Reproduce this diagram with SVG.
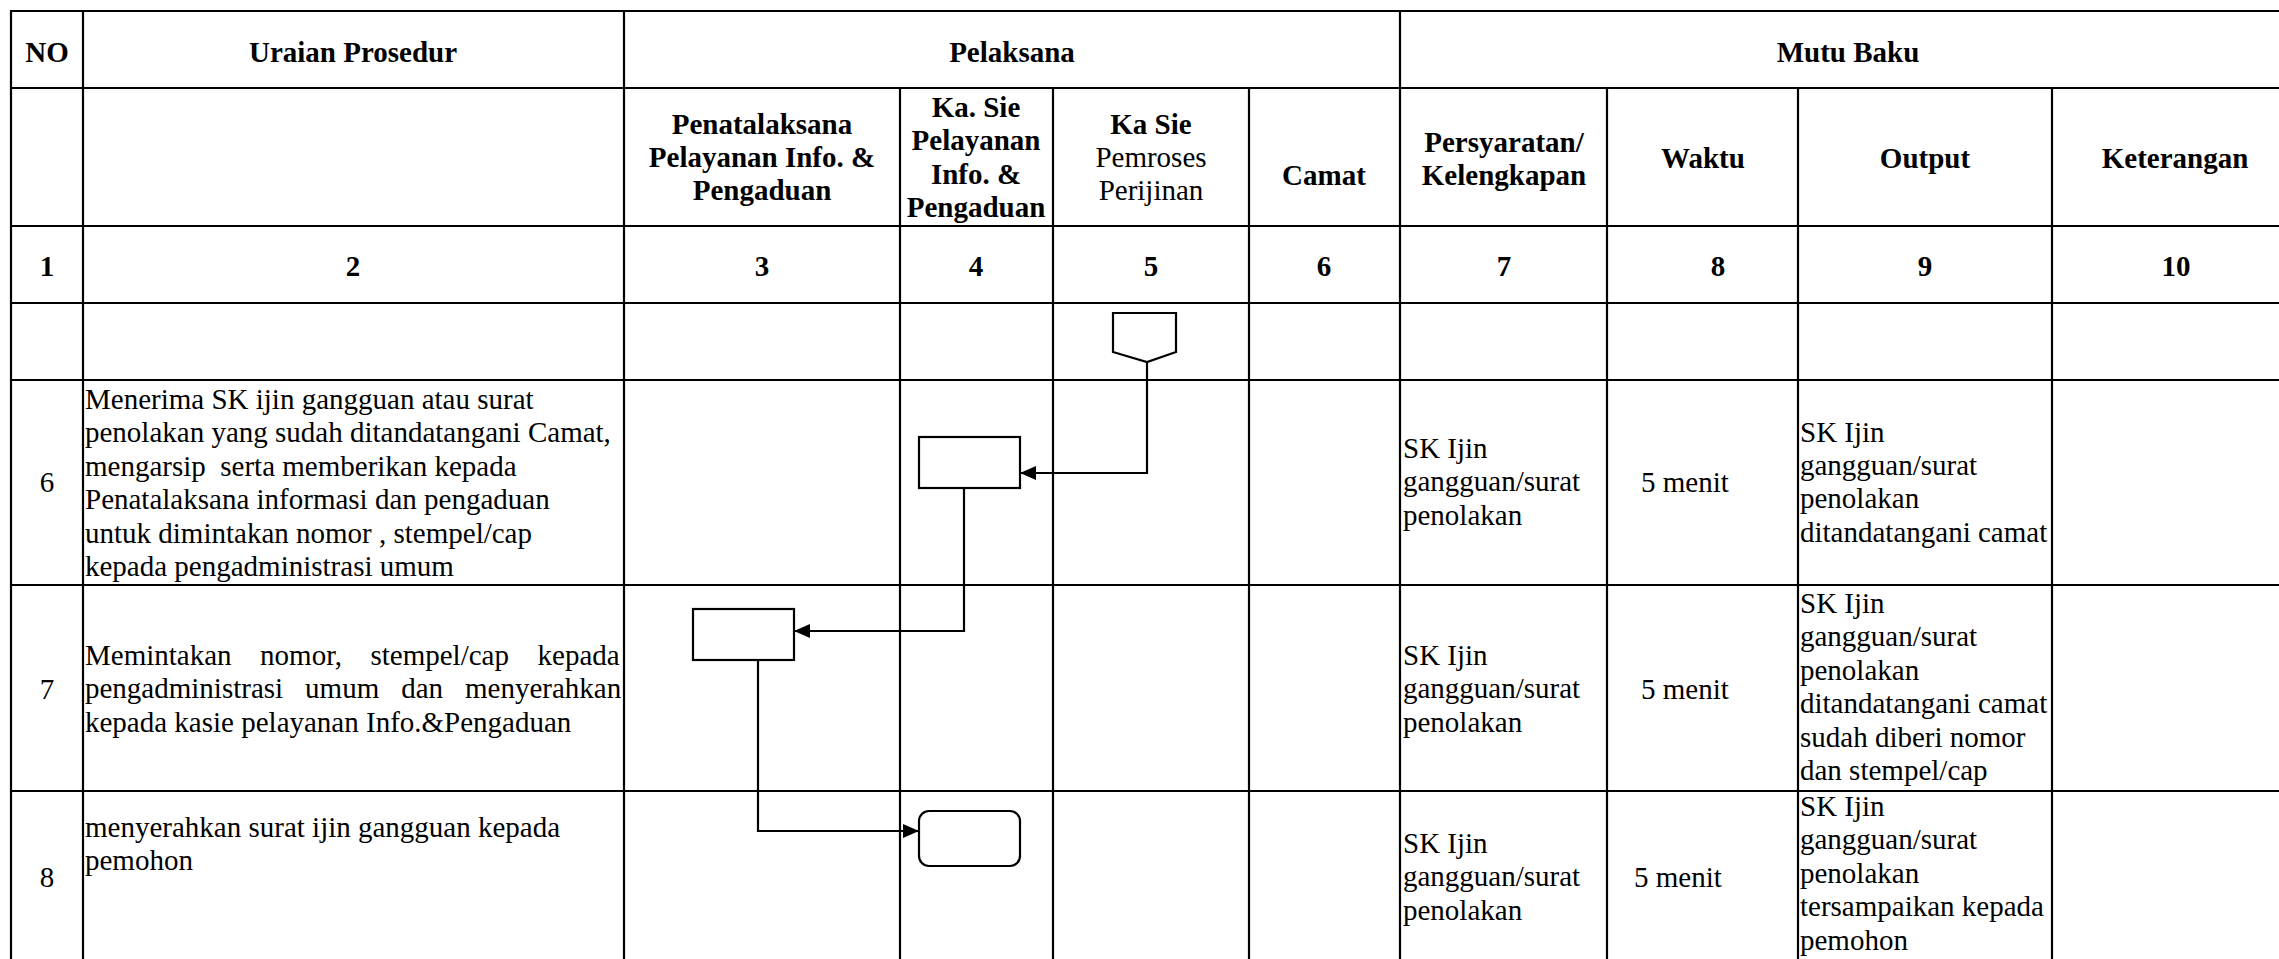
<svg xmlns="http://www.w3.org/2000/svg" width="2279" height="959" viewBox="0 0 2279 959">
<style>
.grid line{stroke:#000;stroke-width:2.2}
text{font-family:"Liberation Serif","Times New Roman",serif;font-size:29px;fill:#000}
.b{font-weight:bold}
.c{text-anchor:middle}
.pre{white-space:pre}
.shape{fill:#fff;stroke:#000;stroke-width:2.2}
.conn{fill:none;stroke:#000;stroke-width:2.2}
</style>
<defs>
<marker id="arr" markerUnits="userSpaceOnUse" markerWidth="18" markerHeight="16" refX="16" refY="7" orient="auto">
<path d="M0,0 L16,7 L0,14 Z" fill="#000"/>
</marker>
</defs>
<rect width="2279" height="959" fill="#fff"/>
<g id="grid" class="grid">
<line x1="11" y1="11" x2="2279" y2="11"/>
<line x1="11" y1="88" x2="2279" y2="88"/>
<line x1="11" y1="226" x2="2279" y2="226"/>
<line x1="11" y1="303" x2="2279" y2="303"/>
<line x1="11" y1="380" x2="2279" y2="380"/>
<line x1="11" y1="585" x2="2279" y2="585"/>
<line x1="11" y1="791" x2="2279" y2="791"/>
<line x1="11" y1="10" x2="11" y2="959"/>
<line x1="83" y1="10" x2="83" y2="959"/>
<line x1="624" y1="10" x2="624" y2="959"/>
<line x1="900" y1="88" x2="900" y2="959"/>
<line x1="1053" y1="88" x2="1053" y2="959"/>
<line x1="1249" y1="88" x2="1249" y2="959"/>
<line x1="1400" y1="10" x2="1400" y2="959"/>
<line x1="1607" y1="88" x2="1607" y2="959"/>
<line x1="1798" y1="88" x2="1798" y2="959"/>
<line x1="2052" y1="88" x2="2052" y2="959"/>
</g>
<g id="header">
<text class="b c" x="47" y="62">NO</text>
<text class="b c" x="353" y="62">Uraian Prosedur</text>
<text class="b c" x="1012" y="62">Pelaksana</text>
<text class="b c" x="1848" y="62">Mutu Baku</text>
<text class="b c" x="762"><tspan x="762" y="133.5">Penatalaksana</tspan><tspan x="762" y="167">Pelayanan Info. &amp;</tspan><tspan x="762" y="200.4">Pengaduan</tspan></text>
<text class="b c" x="976"><tspan x="976" y="117">Ka. Sie</tspan><tspan x="976" y="150.4">Pelayanan</tspan><tspan x="976" y="183.8">Info. &amp;</tspan><tspan x="976" y="217.2">Pengaduan</tspan></text>
<text class="c" x="1151"><tspan class="b" x="1151" y="133.5">Ka Sie</tspan><tspan x="1151" y="167">Pemroses</tspan><tspan x="1151" y="200.4">Perijinan</tspan></text>
<text class="b c" x="1324" y="185">Camat</text>
<text class="b c" x="1504"><tspan x="1504" y="151.5">Persyaratan/</tspan><tspan x="1504" y="185">Kelengkapan</tspan></text>
<text class="b c" x="1703" y="168">Waktu</text>
<text class="b c" x="1925" y="168">Output</text>
<text class="b c" x="2175" y="168">Keterangan</text>
<text class="b c" x="47" y="276">1</text>
<text class="b c" x="353" y="276">2</text>
<text class="b c" x="762" y="276">3</text>
<text class="b c" x="976" y="276">4</text>
<text class="b c" x="1151" y="276">5</text>
<text class="b c" x="1324" y="276">6</text>
<text class="b c" x="1504" y="276">7</text>
<text class="b c" x="1718" y="276">8</text>
<text class="b c" x="1925" y="276">9</text>
<text class="b c" x="2176" y="276">10</text>
</g>
<g id="row6">
<text class="c" x="47" y="492">6</text>
<text x="85" class="pre"><tspan x="85" y="409">Menerima SK ijin gangguan atau surat</tspan><tspan x="85" y="442.4">penolakan yang sudah ditandatangani Camat,</tspan><tspan x="85" y="475.8">mengarsip  serta memberikan kepada</tspan><tspan x="85" y="509.2">Penatalaksana informasi dan pengaduan</tspan><tspan x="85" y="542.6">untuk dimintakan nomor , stempel/cap</tspan><tspan x="85" y="576">kepada pengadministrasi umum</tspan></text>
<text x="1403"><tspan x="1403" y="458">SK Ijin</tspan><tspan x="1403" y="491.4">gangguan/surat</tspan><tspan x="1403" y="524.8">penolakan</tspan></text>
<text x="1641" y="492">5 menit</text>
<text x="1800"><tspan x="1800" y="441.5">SK Ijin</tspan><tspan x="1800" y="474.9">gangguan/surat</tspan><tspan x="1800" y="508.3">penolakan</tspan><tspan x="1800" y="541.7">ditandatangani camat</tspan></text>
</g>
<g id="row7">
<text class="c" x="47" y="699">7</text>
<text x="85" y="665" word-spacing="21.3">Memintakan nomor, stempel/cap kepada</text>
<text x="85" y="698.4" word-spacing="14.7">pengadministrasi umum dan menyerahkan</text>
<text x="85" y="731.8">kepada kasie pelayanan Info.&amp;Pengaduan</text>
<text x="1403"><tspan x="1403" y="665">SK Ijin</tspan><tspan x="1403" y="698.4">gangguan/surat</tspan><tspan x="1403" y="731.8">penolakan</tspan></text>
<text x="1641" y="699">5 menit</text>
<text x="1800"><tspan x="1800" y="613">SK Ijin</tspan><tspan x="1800" y="646.4">gangguan/surat</tspan><tspan x="1800" y="679.8">penolakan</tspan><tspan x="1800" y="713.2">ditandatangani camat</tspan><tspan x="1800" y="746.6">sudah diberi nomor</tspan><tspan x="1800" y="780">dan stempel/cap</tspan></text>
</g>
<g id="row8">
<text class="c" x="47" y="887">8</text>
<text x="85"><tspan x="85" y="837">menyerahkan surat ijin gangguan kepada</tspan><tspan x="85" y="870.4">pemohon</tspan></text>
<text x="1403"><tspan x="1403" y="853">SK Ijin</tspan><tspan x="1403" y="886.4">gangguan/surat</tspan><tspan x="1403" y="919.8">penolakan</tspan></text>
<text x="1634" y="887">5 menit</text>
<text x="1800"><tspan x="1800" y="816">SK Ijin</tspan><tspan x="1800" y="849.4">gangguan/surat</tspan><tspan x="1800" y="882.8">penolakan</tspan><tspan x="1800" y="916.2">tersampaikan kepada</tspan><tspan x="1800" y="949.6">pemohon</tspan></text>
</g>
<g id="connectors">
<path class="conn" d="M1147,362 V473 H1020" marker-end="url(#arr)"/>
<path class="conn" d="M964,488 V631 H794" marker-end="url(#arr)"/>
<path class="conn" d="M758,660 V831 H919" marker-end="url(#arr)"/>
</g>
<g id="node-start">
<polygon class="shape" points="1113,313 1176,313 1176,352 1147,362 1113,352"/>
</g>
<g id="node-step6">
<rect class="shape" x="919" y="437" width="101" height="51"/>
</g>
<g id="node-step7">
<rect class="shape" x="693" y="609" width="101" height="51"/>
</g>
<g id="node-end">
<rect class="shape" x="919" y="811" width="101" height="55" rx="10" ry="10"/>
</g>
</svg>
